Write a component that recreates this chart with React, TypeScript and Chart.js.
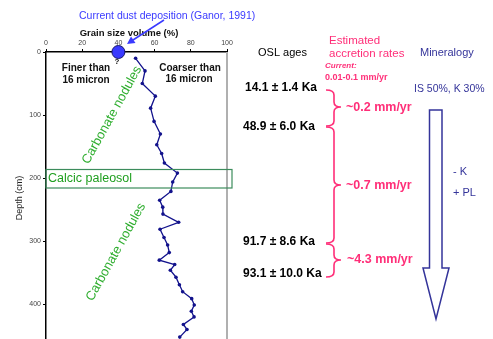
import React, { useEffect, useRef } from "react";
import { Chart, registerables } from "chart.js";

Chart.register(...registerables);

// Depth (cm) of each grain-size sample
const depthCm = [10, 30, 50, 70, 89, 110, 130, 147, 161, 176, 192, 206, 221, 235, 246, 257, 270, 281, 294, 306, 318, 330, 337, 346, 357, 369, 380, 391, 401, 411, 420, 432, 440, 452];
// Grain size volume (%) coarser than 16 micron
const grainPct = [49.5, 54.7, 53.2, 60.4, 57.8, 59.7, 63.2, 61.2, 63.9, 65.4, 72.6, 70, 69, 62.8, 64.5, 64.6, 73.3, 63, 65.2, 67.2, 68.1, 62.6, 71.1, 68.7, 71.8, 73.7, 75.5, 80.5, 81.9, 80.3, 81.8, 75.9, 77.9, 73.9];
// Current dust deposition point
const dustPoint = [{ x: 40, y: 0 }];
const xTicks = [0, 20, 40, 60, 80, 100];
const yTicks = [0, 100, 200, 300, 400];

const oslAges = ["14.1 \u00b1 1.4 Ka", "48.9 \u00b1 6.0 Ka", "91.7 \u00b1 8.6 Ka", "93.1 \u00b1 10.0 Ka"];
const rates = ["~0.2 mm/yr", "~0.7 mm/yr", "~4.3 mm/yr"];

const FF = "'Liberation Sans', Arial, sans-serif";
const PINK = "#ff2e78";
const NAVY = "#34349a";
const GREEN = "#2fae2f";

function brace(ctx: CanvasRenderingContext2D, top: number, mid: number, bottom: number) {
  const x0 = 326, x1 = 334, x2 = 341, r = 5;
  ctx.beginPath();
  ctx.moveTo(x0, top);
  ctx.quadraticCurveTo(x1, top, x1, top + r);
  ctx.lineTo(x1, mid - r);
  ctx.quadraticCurveTo(x1, mid, x2, mid);
  ctx.quadraticCurveTo(x1, mid, x1, mid + r);
  ctx.lineTo(x1, bottom - r);
  ctx.quadraticCurveTo(x1, bottom, x0, bottom);
  ctx.stroke();
}

// stretch the plot area to the bottom edge of the canvas
const fullBottom = {
  id: "fullBottom",
  afterLayout(chart: any) {
    const bottom = chart.height;
    const ca = chart.chartArea;
    ca.bottom = bottom;
    ca.height = bottom - ca.top;
    const y = chart.scales.y;
    y.bottom = bottom;
    y.height = bottom - y.top;
    y.configure();
  },
};

const annotations = {
  id: "annotations",
  afterDraw(chart: any) {
    const ctx: CanvasRenderingContext2D = chart.ctx;
    const ca = chart.chartArea;
    ctx.save();
    // right gray frame line
    ctx.strokeStyle = "#b0b0b0";
    ctx.lineWidth = 2;
    ctx.beginPath();
    ctx.moveTo(ca.right, ca.top);
    ctx.lineTo(ca.right, ca.bottom);
    ctx.stroke();

    // calcic paleosol box
    ctx.strokeStyle = "#3c8c5c";
    ctx.lineWidth = 1.2;
    ctx.strokeRect(46, 169.5, 186, 18.5);
    ctx.fillStyle = "#1f9f1f";
    ctx.font = `12.5px ${FF}`;
    ctx.textBaseline = "middle";
    ctx.textAlign = "left";
    ctx.fillText("Calcic paleosol", 48, 178.5);

    // carbonate nodules
    ctx.fillStyle = GREEN;
    ctx.font = `13px ${FF}`;
    ctx.textAlign = "center";
    for (const [cx, cy] of [[112, 115], [116, 252]]) {
      ctx.save();
      ctx.translate(cx, cy);
      ctx.rotate((-61 * Math.PI) / 180);
      ctx.fillText("Carbonate nodules", 0, 0);
      ctx.restore();
    }

    // finer / coarser
    ctx.fillStyle = "#111";
    ctx.font = `bold 10px ${FF}`;
    ctx.fillText("Finer than", 86, 68.5);
    ctx.fillText("16 micron", 86, 80);
    ctx.fillText("Coarser than", 190, 68.5);
    ctx.fillText("16 micron", 189, 79.5);

    // question mark
    ctx.font = `bold 8px ${FF}`;
    ctx.fillText("?", 117, 62);

    // axis titles
    ctx.font = `bold 9.5px ${FF}`;
    ctx.fillText("Grain size volume (%)", 129, 33);
    ctx.save();
    ctx.translate(20, 198);
    ctx.rotate(-Math.PI / 2);
    ctx.font = `9px ${FF}`;
    ctx.fillStyle = "#222";
    ctx.fillText("Depth (cm)", 0, 0);
    ctx.restore();

    // current dust deposition
    ctx.fillStyle = "#3a3aff";
    ctx.textAlign = "left";
    ctx.font = `10.5px ${FF}`;
    ctx.fillText("Current dust deposition (Ganor, 1991)", 79, 16);
    ctx.strokeStyle = "#3a3aff";
    ctx.lineWidth = 1.5;
    ctx.beginPath();
    ctx.moveTo(164, 20);
    ctx.lineTo(133, 40);
    ctx.stroke();
    ctx.beginPath();
    ctx.moveTo(127, 44);
    ctx.lineTo(131, 36.5);
    ctx.lineTo(135.5, 43);
    ctx.closePath();
    ctx.fill();

    // OSL ages
    ctx.fillStyle = "#000";
    ctx.font = `11px ${FF}`;
    ctx.fillText("OSL ages", 258, 53);
    ctx.font = `bold 12px ${FF}`;
    const ageY = [88, 126.5, 241.5, 273.5];
    const ageX = [245, 243, 243, 243];
    oslAges.forEach((t, i) => ctx.fillText(t, ageX[i], ageY[i]));

    // accretion rates
    ctx.fillStyle = PINK;
    ctx.font = `11.5px ${FF}`;
    ctx.fillText("Estimated", 329, 41);
    ctx.fillText("accretion rates", 329, 53.5);
    ctx.font = `bold italic 8px ${FF}`;
    ctx.fillText("Current:", 325, 65.5);
    ctx.font = `bold 9px ${FF}`;
    ctx.fillText("0.01-0.1 mm/yr", 325, 77.5);
    ctx.font = `bold 12.5px ${FF}`;
    const rateY = [107.5, 185.5, 259.5];
    const rateX = [346, 346, 347];
    rates.forEach((t, i) => ctx.fillText(t, rateX[i], rateY[i]));
    ctx.strokeStyle = PINK;
    ctx.lineWidth = 1.6;
    brace(ctx, 90, 107, 126);
    brace(ctx, 127, 185, 243);
    brace(ctx, 244, 260, 277);

    // mineralogy
    ctx.fillStyle = NAVY;
    ctx.font = `11px ${FF}`;
    ctx.fillText("Mineralogy", 420, 53);
    ctx.font = `10.5px ${FF}`;
    ctx.fillText("IS 50%, K 30%", 414, 89);
    ctx.font = `11px ${FF}`;
    ctx.fillText("- K", 453, 172);
    ctx.fillText("+ PL", 453, 193);
    ctx.strokeStyle = NAVY;
    ctx.lineWidth = 1.5;
    ctx.beginPath();
    ctx.moveTo(429.5, 110);
    ctx.lineTo(442, 110);
    ctx.lineTo(442, 268);
    ctx.lineTo(449, 268);
    ctx.lineTo(436, 319);
    ctx.lineTo(423, 268);
    ctx.lineTo(429.5, 268);
    ctx.closePath();
    ctx.stroke();

    ctx.restore();
  },
};

export default function App() {
  const ref = useRef<HTMLCanvasElement | null>(null);
  useEffect(() => {
    document.body.style.margin = "0";
    const canvas = ref.current!;
    const chart = new Chart(canvas, {
      type: "scatter",
      data: {
        datasets: [
          {
            data: grainPct.map((g, i) => ({ x: g, y: depthCm[i] })),
            showLine: true,
            borderColor: "#12128c",
            backgroundColor: "#12128c",
            borderWidth: 1.3,
            pointRadius: 1.8,
            pointBorderWidth: 0,
          },
          {
            data: dustPoint,
            showLine: false,
            pointRadius: 6.5,
            backgroundColor: "#3a3aff",
            borderColor: "#14146a",
            borderWidth: 1,
            clip: false,
          } as any,
        ],
      },
      options: {
        animation: false,
        responsive: false,
        devicePixelRatio: 1,
        layout: { padding: { left: 0, right: 266, top: 0, bottom: 0 } },
        plugins: { legend: { display: false }, tooltip: { enabled: false } },
        scales: {
          x: {
            type: "linear",
            position: "top",
            min: 0,
            max: 100,
            afterFit: (s: any) => { s.height = 52; s.paddingLeft = 0; s.paddingRight = 0; },
            afterBuildTicks: (s: any) => { s.ticks = xTicks.map((v) => ({ value: v })); },
            ticks: { font: { size: 7, family: FF }, color: "#444", padding: 2 },
            grid: { drawOnChartArea: false, drawTicks: true, tickLength: 3, color: "#000" },
            border: { color: "#000", width: 1.5 },
          },
          y: {
            type: "linear",
            reverse: true,
            min: 0,
            max: 455,
            afterFit: (s: any) => { s.width = 46; s.paddingTop = 0; s.paddingBottom = 0; },
            afterBuildTicks: (s: any) => { s.ticks = yTicks.map((v) => ({ value: v })); },
            ticks: { font: { size: 7, family: FF }, color: "#444", padding: 2 },
            grid: { drawOnChartArea: false, drawTicks: true, tickLength: 3, color: "#000" },
            border: { color: "#000", width: 1.5 },
          },
        },
      },
      plugins: [fullBottom, annotations],
    });
    return () => chart.destroy();
  }, []);
  return (
    <div style={{ width: 493, height: 339, background: "#fff" }}>
      <canvas ref={ref} width={493} height={339} style={{ display: "block" }} />
    </div>
  );
}
